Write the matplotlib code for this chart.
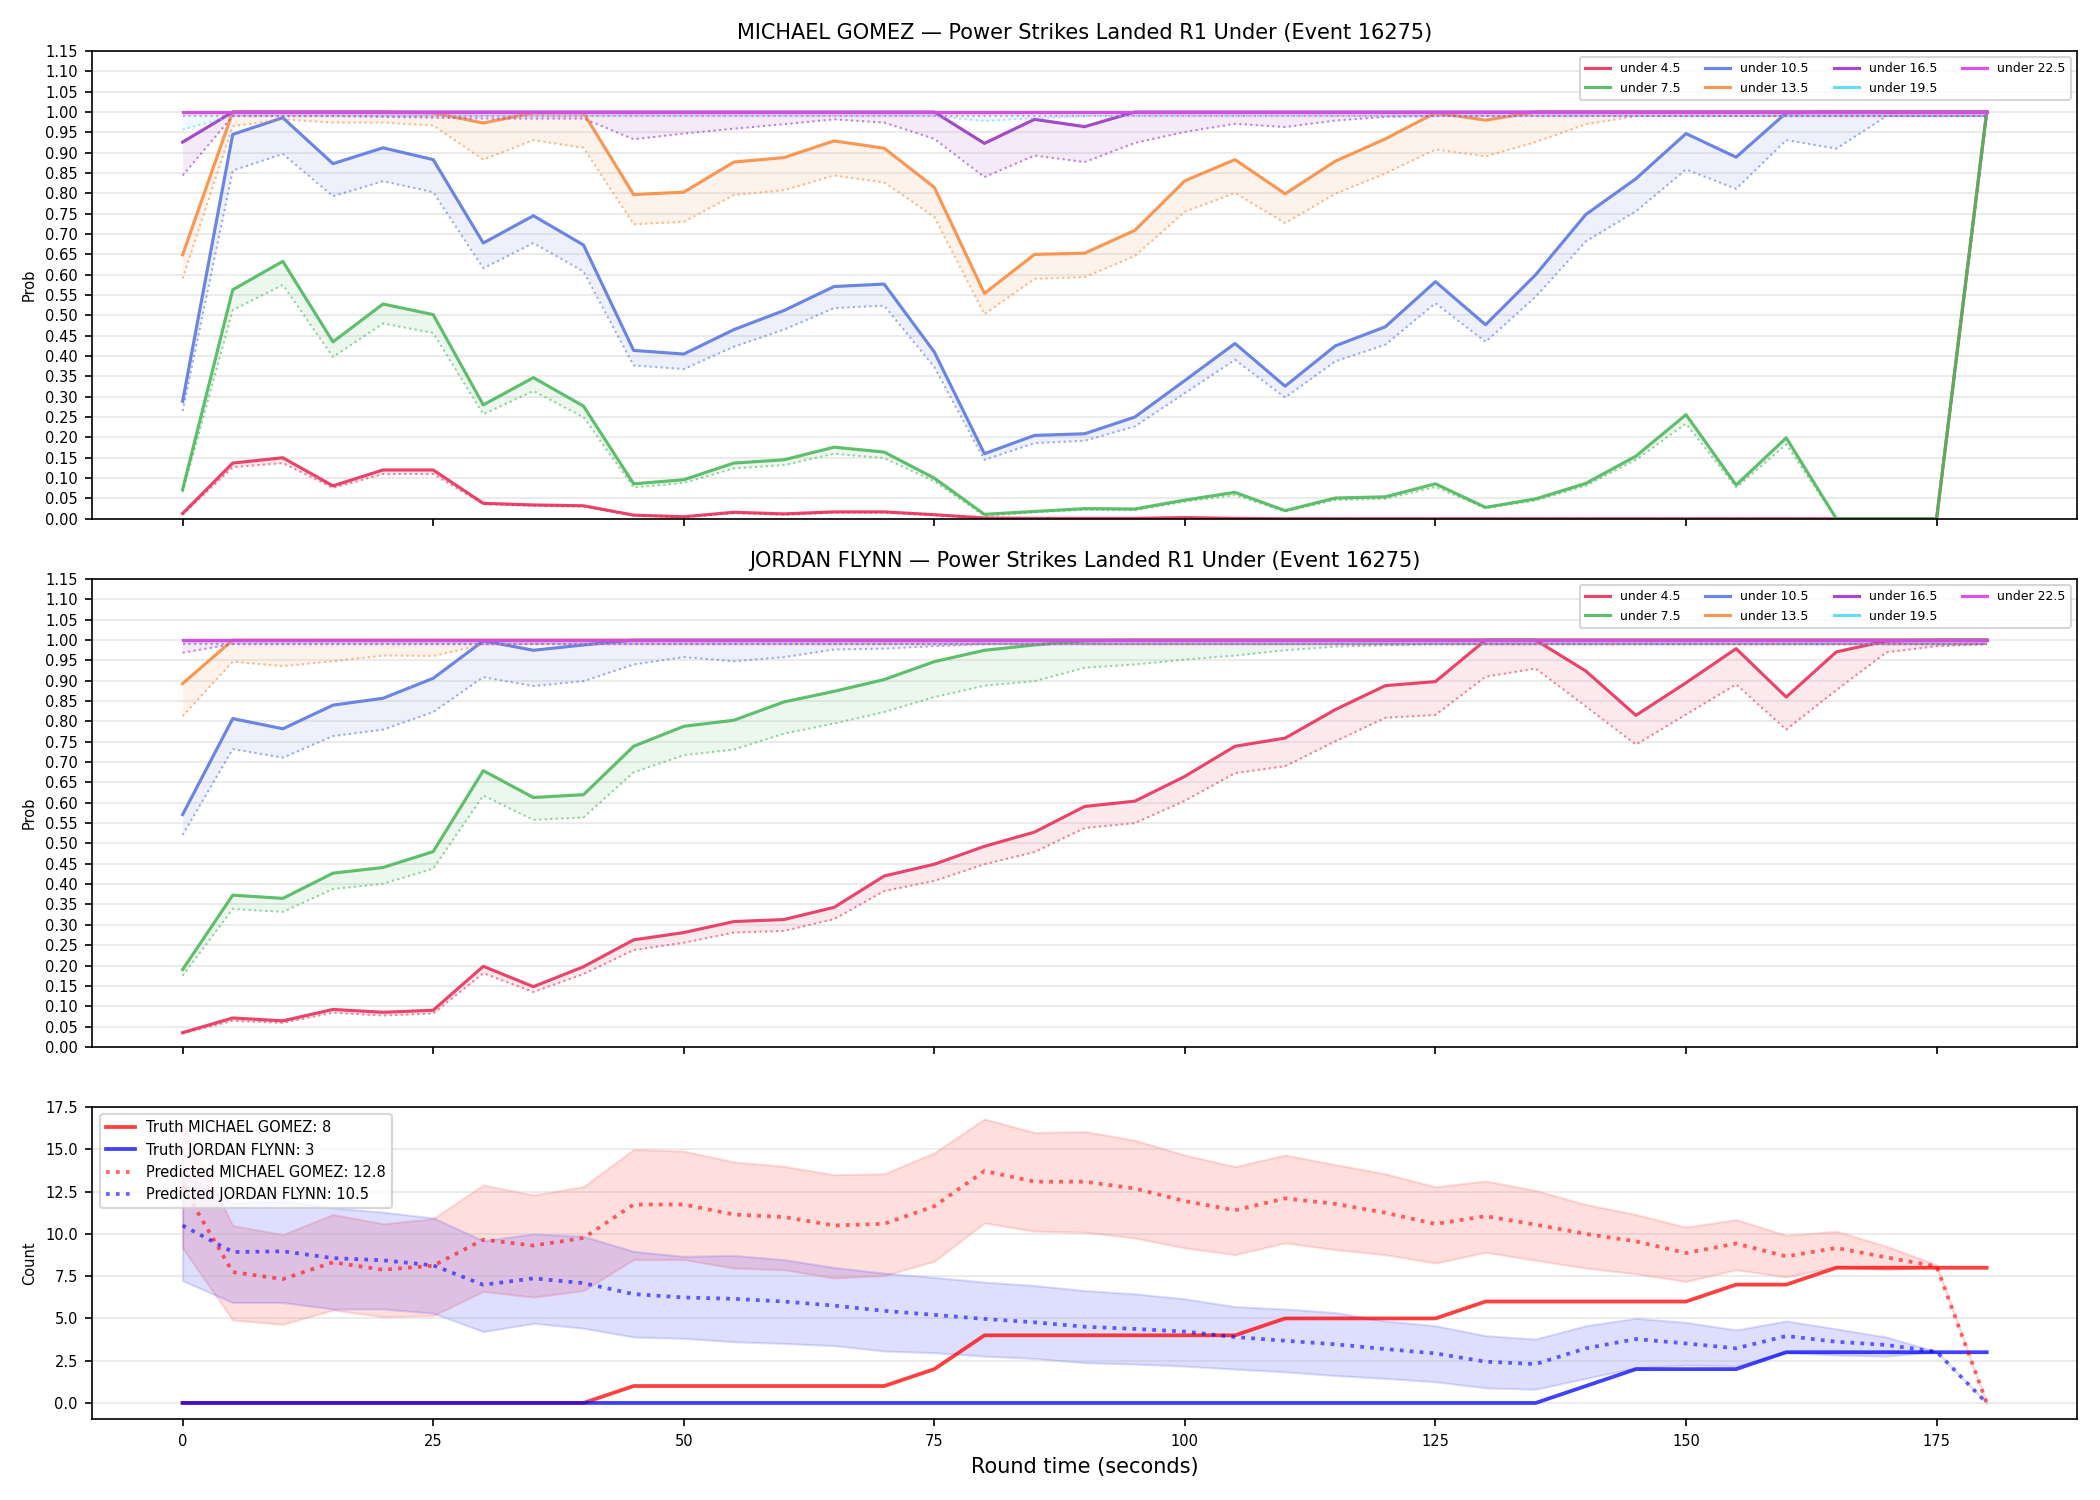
import matplotlib
matplotlib.use("Agg")
import matplotlib.pyplot as plt

# round time in seconds (every 5 s)
times = [0, 5, 10, 15, 20, 25, 30, 35, 40, 45, 50, 55, 60, 65, 70, 75, 80, 85, 90,
         95, 100, 105, 110, 115, 120, 125, 130, 135, 140, 145, 150, 155, 160, 165,
         170, 175, 180]

thresholds = ["under 4.5", "under 7.5", "under 10.5", "under 13.5",
              "under 16.5", "under 19.5", "under 22.5"]
line_colors = ["#e8305a", "#4cb85c", "#5a78e0", "#f98c40",
               "#9b35c0", "#55d8f8", "#e040e0"]

# MICHAEL GOMEZ - solid (live) and dotted (lower) probabilities
gomez_u45 = [0.013, 0.137, 0.150, 0.081, 0.120, 0.120, 0.038, 0.034, 0.032, 0.009, 0.005, 0.016,
             0.012, 0.017, 0.017, 0.010, 0.002, 0.001, 0.001, 0.001, 0.003, 0.001, 0.0, 0.0,
             0.0, 0.0, 0.0, 0.0, 0.0, 0.0, 0.0, 0.0, 0.0, 0.0, 0.0, 0.0, 1.0]
gomez_u45_lo = [0.010, 0.127, 0.137, 0.076, 0.110, 0.110, 0.036, 0.032, 0.030, 0.008, 0.004, 0.014,
                0.010, 0.015, 0.015, 0.009, 0.002, 0.001, 0.001, 0.001, 0.002, 0.001, 0.0, 0.0,
                0.0, 0.0, 0.0, 0.0, 0.0, 0.0, 0.0, 0.0, 0.0, 0.0, 0.0, 0.0, 0.99]
gomez_u75 = [0.072, 0.563, 0.633, 0.435, 0.528, 0.502, 0.280, 0.347, 0.277, 0.086, 0.096, 0.137,
             0.145, 0.176, 0.164, 0.100, 0.011, 0.018, 0.025, 0.024, 0.046, 0.065, 0.020, 0.051,
             0.054, 0.086, 0.028, 0.049, 0.087, 0.154, 0.256, 0.083, 0.199, 0.0, 0.0, 0.0, 1.0]
gomez_u75_lo = [0.065, 0.513, 0.575, 0.398, 0.480, 0.457, 0.257, 0.314, 0.250, 0.077, 0.088, 0.124,
                0.132, 0.160, 0.149, 0.092, 0.007, 0.016, 0.022, 0.021, 0.042, 0.058, 0.018, 0.046,
                0.049, 0.078, 0.026, 0.045, 0.081, 0.145, 0.234, 0.077, 0.183, 0.0, 0.0, 0.0, 0.99]
gomez_u105 = [0.289, 0.945, 0.986, 0.873, 0.912, 0.883, 0.678, 0.745, 0.673, 0.414, 0.405, 0.465,
              0.512, 0.571, 0.577, 0.410, 0.160, 0.205, 0.209, 0.250, 0.340, 0.431, 0.326, 0.425,
              0.472, 0.583, 0.477, 0.600, 0.748, 0.836, 0.947, 0.889, 0.998, 1.0, 1.0, 1.0, 1.0]
gomez_u105_lo = [0.265, 0.856, 0.897, 0.793, 0.830, 0.803, 0.616, 0.678, 0.608, 0.377, 0.368, 0.423,
                 0.465, 0.518, 0.524, 0.373, 0.145, 0.186, 0.192, 0.227, 0.309, 0.391, 0.298, 0.387,
                 0.428, 0.530, 0.435, 0.546, 0.682, 0.756, 0.859, 0.811, 0.931, 0.910, 0.99, 0.99, 0.99]
gomez_u135 = [0.649, 1.0, 1.0, 1.0, 1.0, 0.998, 0.973, 0.998, 0.998, 0.797, 0.803, 0.877,
              0.888, 0.929, 0.911, 0.815, 0.554, 0.650, 0.653, 0.709, 0.831, 0.883, 0.799, 0.879,
              0.934, 0.998, 0.980, 1.0, 1.0, 1.0, 1.0, 1.0, 1.0, 1.0, 1.0, 1.0, 1.0]
gomez_u135_lo = [0.591, 0.965, 0.982, 0.974, 0.974, 0.967, 0.883, 0.931, 0.912, 0.724, 0.730, 0.796,
                 0.808, 0.844, 0.827, 0.742, 0.503, 0.590, 0.594, 0.646, 0.755, 0.801, 0.727, 0.799,
                 0.849, 0.908, 0.891, 0.926, 0.970, 0.99, 0.99, 0.99, 0.99, 0.99, 0.99, 0.99, 0.99]
gomez_u165 = [0.926, 1.0, 1.0, 1.0, 1.0, 1.0, 1.0, 1.0, 1.0, 1.0, 1.0, 1.0,
              1.0, 1.0, 1.0, 1.0, 0.923, 0.982, 0.964, 1.0, 1.0, 1.0, 1.0, 1.0,
              1.0, 1.0, 1.0, 1.0, 1.0, 1.0, 1.0, 1.0, 1.0, 1.0, 1.0, 1.0, 1.0]
gomez_u165_lo = [0.844, 0.99, 0.99, 0.99, 0.988, 0.986, 0.984, 0.984, 0.984, 0.933, 0.947, 0.959,
                 0.970, 0.982, 0.974, 0.934, 0.840, 0.893, 0.877, 0.924, 0.951, 0.971, 0.963, 0.979,
                 0.988, 0.99, 0.99, 0.99, 0.99, 0.99, 0.99, 0.99, 0.99, 0.99, 0.99, 0.99, 0.99]
gomez_u195 = [1.0, 1.0, 1.0, 1.0, 1.0, 1.0, 1.0, 1.0, 1.0, 1.0, 1.0, 1.0,
              1.0, 1.0, 1.0, 1.0, 1.0, 1.0, 1.0, 1.0, 1.0, 1.0, 1.0, 1.0,
              1.0, 1.0, 1.0, 1.0, 1.0, 1.0, 1.0, 1.0, 1.0, 1.0, 1.0, 1.0, 1.0]
gomez_u195_lo = [0.957, 0.99, 0.99, 0.99, 0.99, 0.99, 0.99, 0.99, 0.99, 0.99, 0.99, 0.99,
                 0.99, 0.99, 0.99, 0.99, 0.978, 0.985, 0.99, 0.99, 0.99, 0.99, 0.99, 0.99,
                 0.99, 0.99, 0.99, 0.99, 0.99, 0.99, 0.99, 0.99, 0.99, 0.99, 0.99, 0.99, 0.99]
gomez_u225 = [1.0, 1.0, 1.0, 1.0, 1.0, 1.0, 1.0, 1.0, 1.0, 1.0, 1.0, 1.0,
              1.0, 1.0, 1.0, 1.0, 1.0, 1.0, 1.0, 1.0, 1.0, 1.0, 1.0, 1.0,
              1.0, 1.0, 1.0, 1.0, 1.0, 1.0, 1.0, 1.0, 1.0, 1.0, 1.0, 1.0, 1.0]
gomez_u225_lo = [0.99, 0.99, 0.99, 0.99, 0.99, 0.99, 0.99, 0.99, 0.99, 0.99, 0.99, 0.99,
                 0.99, 0.99, 0.99, 0.99, 0.99, 0.99, 0.99, 0.99, 0.99, 0.99, 0.99, 0.99,
                 0.99, 0.99, 0.99, 0.99, 0.99, 0.99, 0.99, 0.99, 0.99, 0.99, 0.99, 0.99, 0.99]

# JORDAN FLYNN
flynn_u45 = [0.035, 0.071, 0.064, 0.092, 0.085, 0.090, 0.198, 0.148, 0.197, 0.263, 0.281, 0.308,
             0.313, 0.343, 0.420, 0.449, 0.493, 0.528, 0.591, 0.604, 0.665, 0.739, 0.759, 0.829,
             0.888, 0.898, 1.0, 1.0, 0.924, 0.815, 0.895, 0.979, 0.860, 0.971, 0.998, 1.0, 1.0]
flynn_u45_lo = [0.033, 0.064, 0.059, 0.084, 0.077, 0.082, 0.181, 0.135, 0.179, 0.238, 0.256, 0.281,
                0.285, 0.314, 0.383, 0.408, 0.449, 0.479, 0.538, 0.550, 0.605, 0.673, 0.690, 0.751,
                0.809, 0.816, 0.910, 0.930, 0.837, 0.743, 0.817, 0.891, 0.780, 0.877, 0.970, 0.985, 0.99]
flynn_u75 = [0.190, 0.373, 0.365, 0.427, 0.441, 0.480, 0.679, 0.613, 0.620, 0.739, 0.788, 0.803,
             0.848, 0.874, 0.903, 0.947, 0.975, 0.988, 0.998, 1.0, 1.0, 1.0, 1.0, 1.0,
             1.0, 1.0, 1.0, 1.0, 1.0, 1.0, 1.0, 1.0, 1.0, 1.0, 1.0, 1.0, 1.0]
flynn_u75_lo = [0.175, 0.339, 0.332, 0.388, 0.401, 0.438, 0.618, 0.558, 0.564, 0.675, 0.717, 0.731,
                0.770, 0.795, 0.823, 0.860, 0.888, 0.899, 0.932, 0.940, 0.952, 0.962, 0.975, 0.984,
                0.987, 0.99, 0.99, 0.99, 0.99, 0.99, 0.99, 0.99, 0.99, 0.99, 0.99, 0.99, 0.99]
flynn_u105 = [0.571, 0.807, 0.782, 0.840, 0.857, 0.906, 0.998, 0.975, 0.988, 1.0, 1.0, 1.0,
              1.0, 1.0, 1.0, 1.0, 1.0, 1.0, 1.0, 1.0, 1.0, 1.0, 1.0, 1.0,
              1.0, 1.0, 1.0, 1.0, 1.0, 1.0, 1.0, 1.0, 1.0, 1.0, 1.0, 1.0, 1.0]
flynn_u105_lo = [0.521, 0.732, 0.711, 0.764, 0.780, 0.823, 0.909, 0.887, 0.899, 0.940, 0.958, 0.948,
                 0.958, 0.977, 0.979, 0.985, 0.99, 0.99, 0.99, 0.99, 0.99, 0.99, 0.99, 0.99,
                 0.99, 0.99, 0.99, 0.99, 0.99, 0.99, 0.99, 0.99, 0.99, 0.99, 0.99, 0.99, 0.99]
flynn_u135 = [0.893, 1.0, 1.0, 1.0, 1.0, 1.0, 1.0, 1.0, 1.0, 1.0, 1.0, 1.0,
              1.0, 1.0, 1.0, 1.0, 1.0, 1.0, 1.0, 1.0, 1.0, 1.0, 1.0, 1.0,
              1.0, 1.0, 1.0, 1.0, 1.0, 1.0, 1.0, 1.0, 1.0, 1.0, 1.0, 1.0, 1.0]
flynn_u135_lo = [0.813, 0.947, 0.936, 0.948, 0.962, 0.961, 0.989, 0.99, 0.99, 0.99, 0.99, 0.99,
                 0.99, 0.99, 0.99, 0.99, 0.99, 0.99, 0.99, 0.99, 0.99, 0.99, 0.99, 0.99,
                 0.99, 0.99, 0.99, 0.99, 0.99, 0.99, 0.99, 0.99, 0.99, 0.99, 0.99, 0.99, 0.99]
flynn_u165 = gomez_u225
flynn_u165_lo = [0.969, 0.99, 0.99, 0.99, 0.99, 0.99, 0.99, 0.99, 0.99, 0.99, 0.99, 0.99,
                 0.99, 0.99, 0.99, 0.99, 0.99, 0.99, 0.99, 0.99, 0.99, 0.99, 0.99, 0.99,
                 0.99, 0.99, 0.99, 0.99, 0.99, 0.99, 0.99, 0.99, 0.99, 0.99, 0.99, 0.99, 0.99]
flynn_u195 = gomez_u225
flynn_u195_lo = gomez_u225_lo
flynn_u225 = gomez_u225
flynn_u225_lo = gomez_u225_lo

# counts
truth_gomez = [0, 0, 0, 0, 0, 0, 0, 0, 0, 1, 1, 1, 1, 1, 1, 2, 4, 4, 4, 4, 4, 4,
               5, 5, 5, 5, 6, 6, 6, 6, 6, 7, 7, 8, 8, 8, 8]
truth_flynn = [0, 0, 0, 0, 0, 0, 0, 0, 0, 0, 0, 0, 0, 0, 0, 0, 0, 0, 0, 0, 0, 0,
               0, 0, 0, 0, 0, 0, 1, 2, 2, 2, 3, 3, 3, 3, 3]
pred_gomez = [12.8, 7.74, 7.33, 8.32, 7.88, 8.12, 9.66, 9.31, 9.76, 11.74, 11.74, 11.15,
              11.0, 10.5, 10.6, 11.64, 13.72, 13.09, 13.09, 12.69, 11.94, 11.4, 12.1, 11.78,
              11.25, 10.59, 11.05, 10.55, 10.0, 9.56, 8.87, 9.43, 8.67, 9.17, 8.61, 8.08, 0.0]
gomez_hi = [16.5, 10.5, 9.96, 11.15, 10.6, 10.9, 12.9, 12.3, 12.8, 15.0, 14.9, 14.26,
            14.0, 13.5, 13.56, 14.8, 16.8, 16.0, 16.06, 15.54, 14.67, 13.98, 14.67, 14.1,
            13.56, 12.79, 13.13, 12.57, 11.74, 11.15, 10.4, 10.85, 9.92, 10.16, 9.27, 8.18, 0.0]
gomez_lo = [9.17, 4.91, 4.65, 5.5, 5.1, 5.17, 6.6, 6.26, 6.65, 8.48, 8.48, 7.98,
            7.88, 7.39, 7.54, 8.38, 10.65, 10.16, 10.1, 9.76, 9.17, 8.77, 9.47, 9.07,
            8.77, 8.28, 8.91, 8.44, 7.98, 7.64, 7.19, 7.88, 7.45, 8.08, 7.88, 8.08, 0.0]
pred_flynn = [10.5, 8.93, 8.97, 8.57, 8.44, 8.14, 6.99, 7.37, 7.09, 6.44, 6.24, 6.16,
              6.0, 5.76, 5.45, 5.21, 4.97, 4.77, 4.51, 4.38, 4.22, 3.90, 3.68, 3.47,
              3.19, 2.93, 2.44, 2.30, 3.23, 3.78, 3.52, 3.23, 3.96, 3.62, 3.43, 3.03, 0.0]
flynn_hi = [13.5, 11.84, 11.94, 11.54, 11.29, 10.95, 9.6, 10.0, 9.86, 8.97, 8.67, 8.73,
            8.48, 8.02, 7.68, 7.43, 7.15, 6.95, 6.65, 6.46, 6.16, 5.70, 5.56, 5.35,
            4.85, 4.57, 3.98, 3.78, 4.57, 5.01, 4.77, 4.32, 4.85, 4.38, 3.90, 3.03, 0.0]
flynn_lo = [7.23, 5.94, 5.94, 5.56, 5.56, 5.31, 4.22, 4.71, 4.42, 3.9, 3.82, 3.62,
            3.52, 3.39, 3.07, 2.97, 2.77, 2.63, 2.38, 2.30, 2.18, 2.0, 1.84, 1.62,
            1.45, 1.25, 0.89, 0.81, 1.45, 2.08, 2.24, 2.18, 2.99, 2.83, 2.77, 3.03, 0.0]

prob_ticks = [0.0, 0.05, 0.10, 0.15, 0.20, 0.25, 0.30, 0.35, 0.40, 0.45, 0.50, 0.55,
              0.60, 0.65, 0.70, 0.75, 0.80, 0.85, 0.90, 0.95, 1.00, 1.05, 1.10, 1.15]
count_ticks = [0.0, 2.5, 5.0, 7.5, 10.0, 12.5, 15.0, 17.5]
x_ticks = [0, 25, 50, 75, 100, 125, 150, 175]


def plot_prob_panel(ax, title, solids, lows):
    for label, color, s, lo in zip(thresholds, line_colors, solids, lows):
        ax.plot(times, s, color=color, lw=1.5, alpha=0.9, label=label)
        ax.plot(times, lo, color=color, lw=1.0, ls=":", alpha=0.6)
        ax.fill_between(times, lo, s, color=color, alpha=0.1, lw=0)
    ax.set_title(title, fontsize=10)
    ax.set_ylabel("Prob", fontsize=7)
    ax.set_ylim(0, 1.15)
    ax.set_yticks(prob_ticks)
    ax.set_yticklabels([f"{v:.2f}" for v in prob_ticks])
    ax.tick_params(labelsize=7)
    ax.grid(True, axis="y", alpha=0.3)
    ax.legend(loc="upper right", ncol=4, fontsize=6, framealpha=0.8)


fig, axes = plt.subplots(3, 1, figsize=(14, 10), dpi=150, sharex=True,
                         gridspec_kw={"height_ratios": [1.5, 1.5, 1.0]})
fig.subplots_adjust(left=0.044, right=0.989, top=0.966, bottom=0.054, hspace=0.145)

plot_prob_panel(axes[0], "MICHAEL GOMEZ — Power Strikes Landed R1 Under (Event 16275)",
                [gomez_u45, gomez_u75, gomez_u105, gomez_u135, gomez_u165, gomez_u195, gomez_u225],
                [gomez_u45_lo, gomez_u75_lo, gomez_u105_lo, gomez_u135_lo, gomez_u165_lo,
                 gomez_u195_lo, gomez_u225_lo])
plot_prob_panel(axes[1], "JORDAN FLYNN — Power Strikes Landed R1 Under (Event 16275)",
                [flynn_u45, flynn_u75, flynn_u105, flynn_u135, flynn_u165, flynn_u195, flynn_u225],
                [flynn_u45_lo, flynn_u75_lo, flynn_u105_lo, flynn_u135_lo, flynn_u165_lo,
                 flynn_u195_lo, flynn_u225_lo])

# bottom: truth vs predicted counts
ax = axes[2]
ax.fill_between(times, gomez_lo, gomez_hi, color="red", alpha=0.13)
ax.fill_between(times, flynn_lo, flynn_hi, color="blue", alpha=0.13)
ax.plot(times, truth_gomez, color="red", lw=1.8, alpha=0.75, label="Truth MICHAEL GOMEZ: 8")
ax.plot(times, truth_flynn, color="blue", lw=1.8, alpha=0.75, label="Truth JORDAN FLYNN: 3")
ax.plot(times, pred_gomez, color="red", lw=1.8, ls=":", alpha=0.6,
        label=f"Predicted MICHAEL GOMEZ: {pred_gomez[0]:.1f}")
ax.plot(times, pred_flynn, color="blue", lw=1.8, ls=":", alpha=0.6,
        label=f"Predicted JORDAN FLYNN: {pred_flynn[0]:.1f}")
ax.set_ylim(-0.95, 17.5)
ax.set_yticks(count_ticks)
ax.set_ylabel("Count", fontsize=7)
ax.set_xlabel("Round time (seconds)", fontsize=10)
ax.set_xticks(x_ticks)
ax.tick_params(labelsize=7)
ax.grid(True, axis="y", alpha=0.3)
ax.legend(loc="upper left", fontsize=7, framealpha=0.8)
ax.set_xlim(-9, 189)

fig.savefig("out.png", dpi=150)
